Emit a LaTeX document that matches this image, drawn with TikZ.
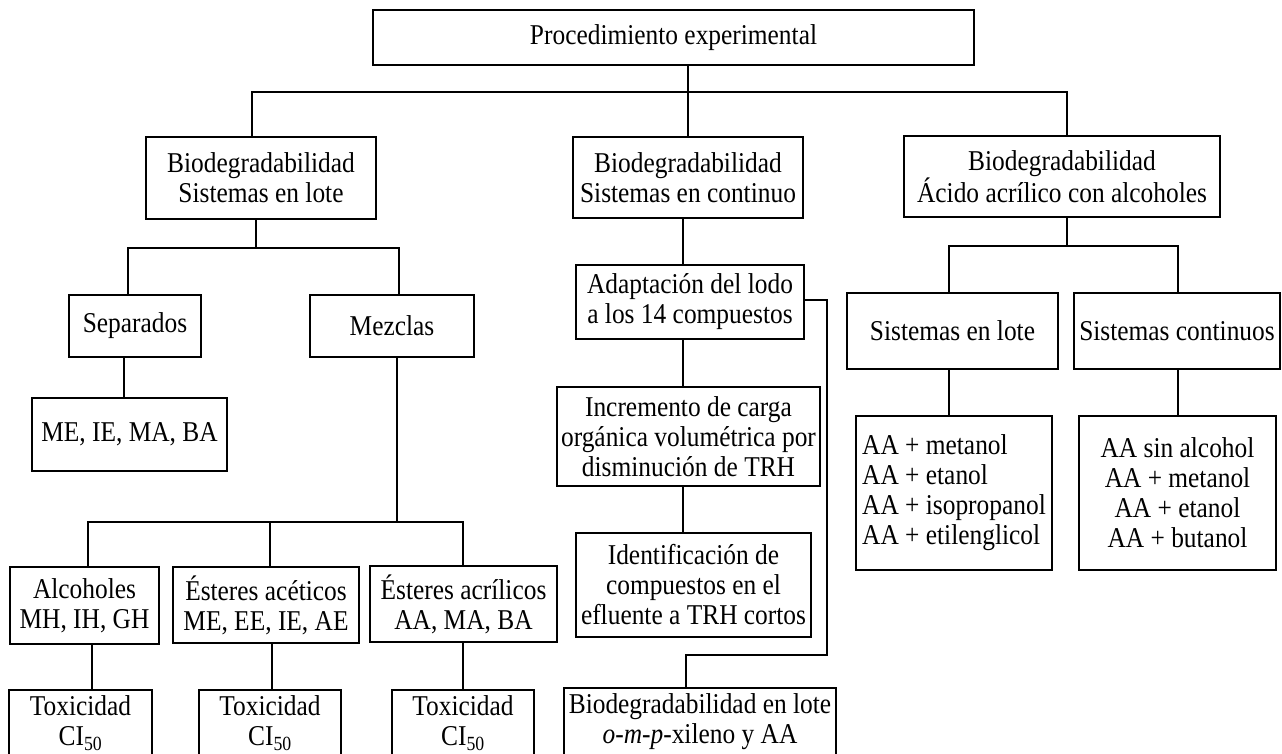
\documentclass[tikz,border=0pt]{standalone}
\usepackage{fontspec}
\setmainfont{Liberation Serif}[FakeStretch=0.885]

\begin{document}
\begin{tikzpicture}[x=1pt,y=-1pt,inner sep=0pt,outer sep=0pt,line width=1.3pt,
font=\fontsize{28.7}{30}\selectfont,
caja/.style 2 args={draw,rectangle,align=center,line width=1.8pt,minimum width=#1pt,minimum height=#2pt}]

\useasboundingbox (0,0) rectangle (1282,754);

% cajas
\draw (673.5,37.5) node[caja={601}{55}] (proc) {Procedimiento experimental};
\draw (261,178) node[caja={230}{82}] (bl) {Biodegradabilidad\\Sistemas en lote};
\draw (688,177.5) node[caja={230}{81}] (bc) {Biodegradabilidad\\Sistemas en continuo};
\draw (1062,176.5) node[caja={316}{81}] (ba) {Biodegradabilidad\\Ácido acrílico con alcoholes};

\draw (135,326) node[caja={132}{62}] (sep) {Separados};
\draw (392,326) node[caja={164}{62}] (mez) {Mezclas};
\draw (129.5,434.5) node[caja={195}{73}] (me) {ME, IE, MA, BA};

\draw (84.5,605.5) node[caja={149}{77}] (alc) {Alcoholes\\MH, IH, GH};
\draw (266,605) node[caja={186}{76}] (ace) {Ésteres acéticos\\ME, EE, IE, AE};
\draw (463.5,604) node[caja={187}{76}] (acr) {Ésteres acrílicos\\AA, MA, BA};
\draw (80.5,723) node[caja={143}{66}] (tox1) {Toxicidad\\CI\textsubscript{50}};
\draw (270,723) node[caja={142}{66}] (tox2) {Toxicidad\\CI\textsubscript{50}};
\draw (463,723) node[caja={142}{66}] (tox3) {Toxicidad\\CI\textsubscript{50}};

\draw (690,302) node[caja={228}{74}] (adap) {Adaptación del lodo\\a los 14 compuestos};
\draw (688.5,436.5) node[caja={263}{99}] (inc) {Incremento de carga\\orgánica volumétrica por\\disminución de TRH};
\draw (693.5,585) node[caja={235}{104}] (ident) {Identificación de\\compuestos en el\\efluente a TRH cortos};
\draw (700,722) node[caja={272}{68}] (biol) {Biodegradabilidad en lote\\\textit{o}-\textit{m}-\textit{p}-xileno y AA};

\draw (952.5,331) node[caja={211}{76}] (lote) {Sistemas en lote};
\draw (1177,331) node[caja={206}{76}] (cont) {Sistemas continuos};
\draw (954,493) node[caja={196}{154},align=left] (aa1) {AA + metanol\\AA + etanol\\AA + isopropanol\\AA + etilenglicol};
\draw (1177.5,493) node[caja={197}{154}] (aa2) {AA sin alcohol\\AA + metanol\\AA + etanol\\AA + butanol};

% puntos de union
\coordinate (r0) at (688,92);
\coordinate (rl) at (252,92);
\coordinate (rr) at (1067,92);
\coordinate (s0) at (256,248);
\coordinate (sl) at (128,248);
\coordinate (sr) at (399,248);
\coordinate (m0) at (397,522);
\coordinate (m1) at (88,522);
\coordinate (m2) at (270,522);
\coordinate (m3) at (463,522);
\coordinate (t1) at (92,0);
\coordinate (t2) at (272,0);
\coordinate (cc) at (683,0);
\coordinate (lado) at (827,655);
\coordinate (cb) at (686,655);
\coordinate (a0) at (1067,246);
\coordinate (al) at (949,246);
\coordinate (ar) at (1178,246);

% conexiones
\draw (proc.south -| r0) -- (r0);
\draw (bl.north -| rl) -- (rl) -- (rr) -- (ba.north -| rr);
\draw (r0) -- (bc.north);

\draw (bl.south -| s0) -- (s0);
\draw (sep.north -| sl) -- (sl) -- (sr) -- (mez.north -| sr);
\draw ([xshift=-11pt]sep.south) -- ([xshift=-11pt]sep.south |- me.north);

\draw (mez.south -| m0) -- (m0);
\draw (alc.north -| m1) -- (m1) -- (m3) -- (acr.north -| m3);
\draw (m2) -- (ace.north -| m2);
\draw (alc.south -| t1) -- (tox1.north -| t1);
\draw (ace.south -| t2) -- (tox2.north -| t2);
\draw (acr.south -| m3) -- (tox3.north -| m3);

\draw (bc.south -| cc) -- (adap.north -| cc);
\draw (adap.south -| cc) -- (inc.north -| cc);
\draw (inc.south -| cc) -- (ident.north -| cc);
\draw ([yshift=2pt]adap.east) -| (lado) -- (cb) -- (biol.north -| cb);

\draw (ba.south -| a0) -- (a0);
\draw (lote.north -| al) -- (al) -- (ar) -- (cont.north -| ar);
\draw (lote.south -| al) -- (aa1.north -| al);
\draw (cont.south -| ar) -- (aa2.north -| ar);
\end{tikzpicture}
\end{document}
